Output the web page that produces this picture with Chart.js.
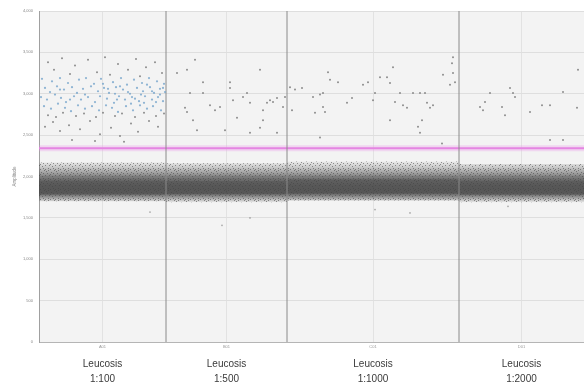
<!DOCTYPE html>
<html>
<head>
<meta charset="utf-8">
<script src="https://cdn.jsdelivr.net/npm/chart.js@4.4.1/dist/chart.umd.min.js"></script>
<style>
  html, body { margin: 0; padding: 0; background: #fff; }
  #wrap { width: 584px; height: 385px; }
</style>
</head>
<body>
<div id="wrap"><canvas id="c" width="584" height="385"></canvas></div>
<script>
// wells (droplet event ranges along the x axis)
const wellBounds = [0, 12700, 24800, 42000, 54500];
const wellIds = ["A01", "B01", "C01", "D01"];
const wellNames = ["Leucosis", "Leucosis", "Leucosis", "Leucosis"];
const dilutions = ["1:100", "1:500", "1:1000", "1:2000"];

const threshold = 2340;

// negative droplet cloud per well (amplitude ranges)
const fringeLow = [1700, 1690, 1710, 1690];
const fringeHigh = [2170, 2160, 2180, 2150];
const coreLow = [1780, 1785, 1795, 1775];
const coreHigh = [1950, 1945, 1965, 1950];

// positive droplets, [event, amplitude]
const posBlue = [
  [300,3180],[1300,3150],[2100,3190],[2900,3130],[4000,3170],[4700,3190],[5500,3120],[6200,3180],
  [7400,3140],[8200,3190],[8800,3110],[9500,3170],[10300,3130],[11000,3190],[11800,3150],[12500,3120],
  [600,3070],[1100,3020],[1800,3090],[2500,3050],[3300,3080],[3800,3010],[4400,3060],[5200,3090],
  [5900,3030],[6500,3070],[7000,3010],[7700,3080],[8400,3050],[9100,3000],[9800,3070],[10400,3030],
  [11100,3080],[11500,3010],[12100,3060],[12600,3020],
  [200,2960],[800,2930],[1600,2990],[2200,2950],[2700,2900],[3500,2970],[4200,2930],[4900,2960],
  [5600,2900],[6100,2970],[6800,2940],[7500,2890],[8000,2970],[8600,2930],[9300,2960],[10000,2910],
  [10600,2970],[11300,2930],[11900,2960],[12400,2910],
  [500,2850],[1200,2820],[1900,2880],[2600,2830],[3200,2790],[3900,2860],[4600,2820],[5300,2850],
  [6000,2800],[6700,2860],[7300,2830],[7900,2780],[8700,2850],[9400,2800],[10100,2860],[10800,2820],
  [11400,2850],[12200,2800],
  [6400,3120],[6900,3060],[7600,3000],[8100,3090],[8900,3020],[9600,2940],[10200,2990],[10800,3110],
  [11300,3030],[11700,2900],[12100,2990],[12400,3070],[9200,2880],[7800,2930],[10500,2890],[2100,3050],
  [3100,2930],[4600,2990]
];

const posGray = [
  // well 1
  [900,3380],[2300,3430],[3600,3340],[4900,3410],[5800,3260],[6600,3440],[7900,3360],[8900,3290],
  [9700,3420],[10700,3320],[11600,3380],[12300,3250],[3100,3240],[7100,3230],[10100,3210],[1500,3290],
  [900,2740],[1700,2720],[2400,2770],[3700,2730],[4500,2760],[5700,2720],[6400,2770],[7600,2730],
  [8300,2760],[9600,2720],[10500,2770],[11700,2730],[12500,2760],
  [1400,2660],[3000,2620],[5100,2670],[7200,2590],[9200,2640],[11000,2670],[2100,2550],[6100,2510],
  [9900,2540],[4100,2570],[11900,2600],[8100,2490],[600,2600],[3300,2440],[8500,2420],[5600,2430],
  // well 2
  [13800,3250],[14800,3290],[15100,3010],[16400,3140],[16400,3010],[14600,2830],[14800,2780],[15400,2680],
  [15800,2560],[17100,2860],[17600,2800],[18100,2840],[19100,3140],[19100,3070],[19400,2920],[19800,2710],
  [18600,2560],[20400,2960],[20800,3010],[21100,2890],[22100,3290],[22400,2800],[22800,2890],[23100,2920],
  [23400,2900],[23800,2950],[22400,2680],[22100,2590],[23800,2530],[15600,3410],[21100,2530],[24400,2840],
  [24600,2960],
  // well 3
  [25100,3080],[25600,3050],[26300,3070],[25300,2800],[27400,2960],[28100,2990],[28400,3010],[28900,3260],
  [29100,3170],[29900,3140],[27600,2770],[28600,2780],[28400,2840],[30800,2890],[31300,2950],[32400,3110],
  [32900,3140],[33600,3010],[33400,2920],[34100,3200],[34800,3200],[35400,3320],[35100,3130],[35100,2680],
  [36100,3010],[35600,2900],[36400,2860],[36800,2830],[37400,3010],[38100,3010],[38600,3010],[38800,2890],
  [39400,2860],[39100,2830],[38300,2680],[37900,2600],[38100,2530],[40400,3230],[41300,3370],[41400,3440],
  [41400,3250],[41600,3140],[41100,3110],[28100,2470],[40300,2400],
  // well 4
  [44100,2840],[44600,2900],[45100,3010],[44400,2800],[46300,2840],[46600,2740],[47100,3070],[47400,3010],
  [47600,2960],[49100,2780],[50300,2860],[51100,2860],[52400,3020],[53800,2830],[53900,3290],[51100,2440],
  [52400,2440]
];

// stray droplets below the negative cloud
const strayLow = [[11100,1570],[21100,1500],[33600,1600],[37100,1560],[46900,1640],[18300,1410]];

const wellCenters = wellBounds.slice(0, -1).map((b, i) => (b + wellBounds[i + 1]) / 2);

function stepLine(levels) {
  const pts = [];
  levels.forEach((v, i) => {
    pts.push({ x: wellBounds[i], y: v }, { x: wellBounds[i + 1], y: v });
  });
  return pts;
}
const toPts = (arr) => arr.map((p) => ({ x: p[0], y: p[1] }));

function speckle(dot, dots) {
  const c = document.createElement("canvas");
  c.width = 10; c.height = 10;
  const g = c.getContext("2d");
  g.fillStyle = dot;
  dots.forEach((d) => g.fillRect(d[0], d[1], 1, 1));
  return g.createPattern(c, "repeat");
}
const fringeDots = speckle("rgba(70,70,70,0.55)",
  [[1,2],[4,0],[7,3],[2,6],[5,5],[8,8],[0,9],[6,1],[3,8],[9,5],[8,0],[5,9],[0,4],[3,3]]);

// vertical shading of the negative cloud, stops in amplitude units
const bandShade = [
  [2200, 0], [2120, 0.22], [2040, 0.5], [1970, 0.78], [1880, 0.86], [1800, 0.86], [1750, 0.55], [1680, 0]
];
function bandGradient(ctx) {
  const chart = ctx.chart;
  if (!chart.chartArea) return "rgba(70,70,70,0.6)";
  const y = chart.scales.y;
  const top = y.getPixelForValue(bandShade[0][0]);
  const bot = y.getPixelForValue(bandShade[bandShade.length - 1][0]);
  const g = chart.ctx.createLinearGradient(0, top, 0, bot);
  bandShade.forEach(([v, a]) => {
    g.addColorStop((y.getPixelForValue(v) - top) / (bot - top), "rgba(72,72,72," + a + ")");
  });
  return g;
}

const font = "'Liberation Sans', Arial, sans-serif";

const line = (data, extra) => Object.assign({
  type: "line", data, pointRadius: 0, borderWidth: 0, showLine: true, fill: false, tension: 0
}, extra);

const datasets = [
  line(stepLine(fringeLow), { order: 10 }),
  line(stepLine(fringeHigh), { order: 10, fill: "-1", backgroundColor: bandGradient }),
  line(stepLine(fringeLow), { order: 9 }),
  line(stepLine(fringeHigh), { order: 9, fill: "-1", backgroundColor: fringeDots }),
  line(stepLine(coreLow), { order: 8 }),
  line(stepLine(coreHigh), { order: 8, fill: "-1", backgroundColor: "rgba(60,60,60,0.25)" }),
  line([{ x: wellBounds[0], y: threshold }, { x: wellBounds[wellBounds.length - 1], y: threshold }],
    { order: 6, borderWidth: 6, borderColor: "rgba(235,150,235,0.3)" }),
  line([{ x: wellBounds[0], y: threshold }, { x: wellBounds[wellBounds.length - 1], y: threshold }],
    { order: 5, borderWidth: 2, borderColor: "#e585e2" }),
];
wellBounds.slice(1, -1).forEach((b) => {
  datasets.push(line([{ x: b, y: 0 }, { x: b, y: 4000 }],
    { order: 4, borderWidth: 1, borderColor: "#8a8a8a" }));
});
datasets.push({
  type: "scatter", data: toPts(posGray), order: 2, pointRadius: 1, borderWidth: 0,
  backgroundColor: "rgba(115,115,115,0.8)"
});
datasets.push({
  type: "scatter", data: toPts(strayLow), order: 2, pointRadius: 0.9, borderWidth: 0,
  backgroundColor: "rgba(140,140,140,0.7)"
});
datasets.push({
  type: "scatter", data: toPts(posBlue), order: 1, pointRadius: 1.1, borderWidth: 0,
  backgroundColor: "rgba(115,163,202,0.8)"
});

const plotBg = {
  id: "plotBg",
  beforeDraw(chart) {
    const a = chart.chartArea, ctx = chart.ctx;
    ctx.save();
    ctx.fillStyle = "#f3f3f3";
    ctx.fillRect(a.left, a.top, a.right - a.left, a.bottom - a.top);
    ctx.restore();
  }
};

const centerTicks = (scale) => {
  scale.ticks = wellCenters.map((v) => ({ value: v }));
};

new Chart(document.getElementById("c"), {
  type: "scatter",
  data: { datasets },
  plugins: [plotBg],
  options: {
    responsive: false,
    animation: false,
    layout: { autoPadding: false, padding: { top: 11, right: 0, left: 0, bottom: 0 } },
    plugins: { legend: { display: false }, tooltip: { enabled: false } },
    scales: {
      x: {
        type: "linear",
        min: wellBounds[0],
        max: wellBounds[wellBounds.length - 1],
        afterBuildTicks: centerTicks,
        afterFit: (s) => { s.height = 10; },
        grid: { color: "#e2e2e2", drawTicks: false },
        border: { color: "#b5b5b5" },
        ticks: {
          padding: 2,
          color: "#999",
          font: { family: font, size: 4 },
          callback: (v, i) => wellIds[i]
        }
      },
      xb: {
        type: "linear",
        position: "bottom",
        min: wellBounds[0],
        max: wellBounds[wellBounds.length - 1],
        afterBuildTicks: centerTicks,
        afterFit: (s) => { s.height = 33; },
        grid: { display: false, drawTicks: false },
        border: { display: false },
        ticks: {
          padding: 4.5,
          color: "#3a3a3a",
          font: { family: font, size: 10, lineHeight: 1.5 },
          callback: (v, i) => [wellNames[i], dilutions[i]]
        }
      },
      y: {
        min: 0,
        max: 4000,
        afterFit: (s) => { s.width = 39; },
        grid: { color: "#dedede", drawTicks: false },
        border: { color: "#a0a0a0" },
        ticks: {
          stepSize: 500,
          padding: 6,
          color: "#888",
          font: { family: font, size: 4 }
        },
        title: {
          display: true,
          text: "Amplitude",
          color: "#888",
          padding: { top: 12, bottom: 0 },
          font: { family: font, size: 4.5 }
        }
      }
    }
  }
});
</script>
</body>
</html>
